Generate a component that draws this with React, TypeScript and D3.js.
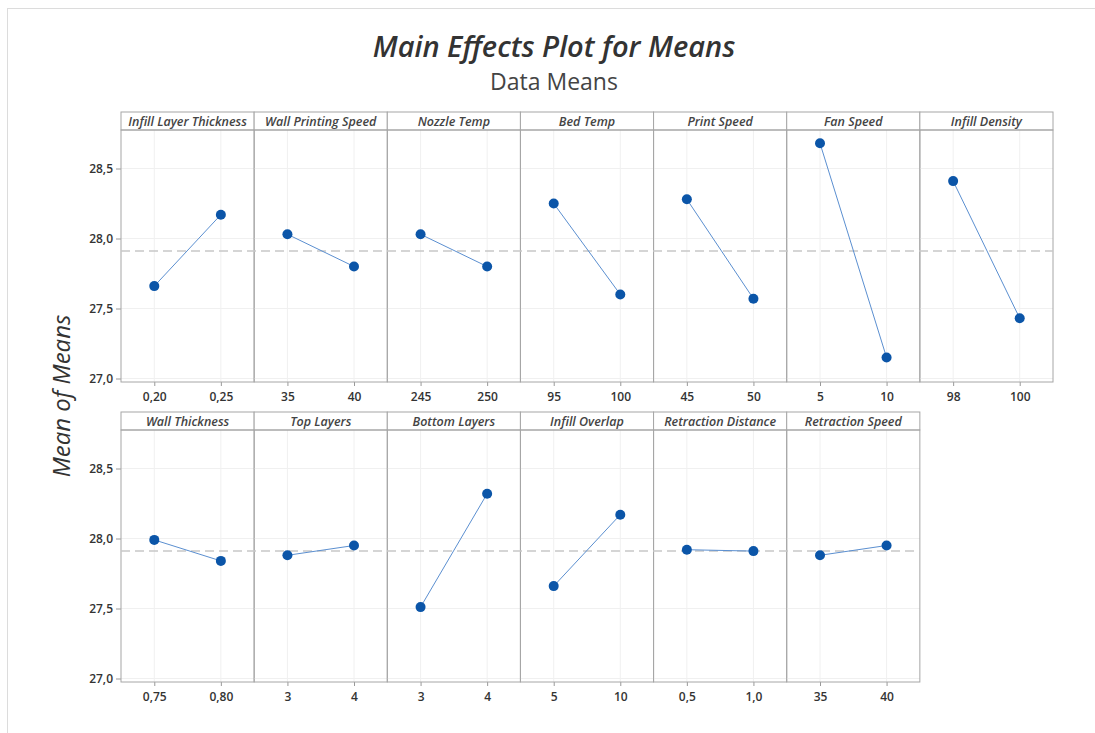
import { useEffect, useRef } from "react";
import * as d3 from "d3";

const factors = [
  "Infill Layer Thickness",
  "Wall Printing Speed",
  "Nozzle Temp",
  "Bed Temp",
  "Print Speed",
  "Fan Speed",
  "Infill Density",
  "Wall Thickness",
  "Top Layers",
  "Bottom Layers",
  "Infill Overlap",
  "Retraction Distance",
  "Retraction Speed",
];

const levels = [
  ["0,20", "0,25"],
  ["35", "40"],
  ["245", "250"],
  ["95", "100"],
  ["45", "50"],
  ["5", "10"],
  ["98", "100"],
  ["0,75", "0,80"],
  ["3", "4"],
  ["3", "4"],
  ["5", "10"],
  ["0,5", "1,0"],
  ["35", "40"],
];

const means = [
  [27.66, 28.17],
  [28.03, 27.8],
  [28.03, 27.8],
  [28.25, 27.6],
  [28.28, 27.57],
  [28.68, 27.15],
  [28.41, 27.43],
  [27.99, 27.84],
  [27.88, 27.95],
  [27.51, 28.32],
  [27.66, 28.17],
  [27.92, 27.91],
  [27.88, 27.95],
];

const grandMean = 27.91;
const yTicks = [27.0, 27.5, 28.0, 28.5];
const perRow = 7;

export default function App() {
  const svgRef = useRef<SVGSVGElement | null>(null);

  useEffect(() => {
    if (!svgRef.current) return;
    const width = 1095;
    const height = 733;
    const left = 121;
    const right = 1053;
    const panelW = (right - left) / perRow;
    const stripH = 18;
    const plotH = 252;
    const rowTops = [112, 412];
    const font = "'Open Sans', 'Noto Sans', sans-serif";

    const svg = d3.select(svgRef.current);
    svg.selectAll("*").remove();

    svg.append("rect").attr("width", width).attr("height", height).attr("fill", "#fff");
    // outer frame
    svg
      .append("rect")
      .attr("x", 7.5)
      .attr("y", 8.5)
      .attr("width", width)
      .attr("height", height)
      .attr("fill", "none")
      .attr("stroke", "#dcdcdc");

    svg
      .append("text")
      .attr("x", 554)
      .attr("y", 57)
      .attr("text-anchor", "middle")
      .attr("font-family", font)
      .attr("font-size", 29)
      .attr("font-style", "italic")
      .attr("font-weight", 600)
      .attr("fill", "#333")
      .text("Main Effects Plot for Means");

    svg
      .append("text")
      .attr("x", 554)
      .attr("y", 90)
      .attr("text-anchor", "middle")
      .attr("font-family", font)
      .attr("font-size", 23)
      .attr("fill", "#444")
      .text("Data Means");

    svg
      .append("text")
      .attr("transform", "translate(70,396) rotate(-90)")
      .attr("text-anchor", "middle")
      .attr("font-family", font)
      .attr("font-size", 24)
      .attr("font-style", "italic")
      .attr("fill", "#333")
      .text("Mean of Means");

    const nRows = Math.ceil(factors.length / perRow);
    for (let r = 0; r < nRows; r++) {
      const top = rowTops[r];
      const plotTop = top + stripH;
      const plotBottom = plotTop + plotH;
      const idx = d3.range(r * perRow, Math.min(factors.length, (r + 1) * perRow));
      const rowRight = left + idx.length * panelW;

      const y = d3.scaleLinear().domain([26.975, 28.775]).range([plotBottom, plotTop]);

      const row = svg.append("g");

      // y axis ticks
      const yAxis = row
        .append("g")
        .attr("transform", `translate(${left},0)`)
        .call(
          d3
            .axisLeft(y)
            .tickValues(yTicks)
            .tickSize(5)
            .tickFormat((d) => d3.format(".1f")(d as number).replace(".", ","))
        );
      yAxis.select(".domain").remove();
      yAxis.selectAll("line").attr("stroke", "#999");
      yAxis
        .selectAll("text")
        .attr("font-family", font)
        .attr("font-size", 12)
        .attr("font-weight", 600)
        .attr("fill", "#333")
        .attr("x", -8);

      idx.forEach((fi, j) => {
        const x0 = left + j * panelW;
        const x = d3
          .scalePoint<string>()
          .domain(levels[fi])
          .range([x0, x0 + panelW])
          .padding(0.5);

        const g = row.append("g");

        // grid
        g.selectAll(".hg")
          .data(yTicks)
          .join("line")
          .attr("x1", x0)
          .attr("x2", x0 + panelW)
          .attr("y1", (d) => y(d))
          .attr("y2", (d) => y(d))
          .attr("stroke", "#f0f0f0");
        g.selectAll(".vg")
          .data(levels[fi])
          .join("line")
          .attr("x1", (d) => x(d)!)
          .attr("x2", (d) => x(d)!)
          .attr("y1", plotTop)
          .attr("y2", plotBottom)
          .attr("stroke", "#f0f0f0");

        // x axis
        const xAxis = g
          .append("g")
          .attr("transform", `translate(0,${plotBottom})`)
          .call(d3.axisBottom(x).tickSize(4));
        xAxis.select(".domain").remove();
        xAxis.selectAll("line").attr("stroke", "#999");
        xAxis
          .selectAll("text")
          .attr("font-family", font)
          .attr("font-size", 12)
          .attr("font-weight", 600)
          .attr("fill", "#333")
          .attr("y", 10);

        // strip
        g.append("rect")
          .attr("x", x0)
          .attr("y", top)
          .attr("width", panelW)
          .attr("height", stripH)
          .attr("fill", "#fff")
          .attr("stroke", "#a6a6a6");
        g.append("text")
          .attr("x", x0 + panelW / 2)
          .attr("y", top + 13.5)
          .attr("text-anchor", "middle")
          .attr("font-family", font)
          .attr("font-size", 12.5)
          .attr("font-style", "italic")
          .attr("font-weight", 600)
          .attr("fill", "#444")
          .text(factors[fi]);

        // panel frame
        g.append("rect")
          .attr("x", x0)
          .attr("y", plotTop)
          .attr("width", panelW)
          .attr("height", plotH)
          .attr("fill", "none")
          .attr("stroke", "#a6a6a6");
      });

      // mean reference line
      row
        .append("line")
        .attr("x1", left)
        .attr("x2", rowRight)
        .attr("y1", y(grandMean))
        .attr("y2", y(grandMean))
        .attr("stroke", "#c8c8c8")
        .attr("stroke-width", 1.5)
        .attr("stroke-dasharray", "9,5");

      idx.forEach((fi, j) => {
        const x0 = left + j * panelW;
        const x = d3
          .scalePoint<string>()
          .domain(levels[fi])
          .range([x0, x0 + panelW])
          .padding(0.5);
        const pts = levels[fi].map((l, k) => ({ l, v: means[fi][k] }));
        const line = d3
          .line<{ l: string; v: number }>()
          .x((d) => x(d.l)!)
          .y((d) => y(d.v));
        row
          .append("path")
          .attr("d", line(pts))
          .attr("fill", "none")
          .attr("stroke", "#5b8fd0")
          .attr("stroke-width", 1);
        row
          .selectAll(`.pt${fi}`)
          .data(pts)
          .join("circle")
          .attr("cx", (d) => x(d.l)!)
          .attr("cy", (d) => y(d.v))
          .attr("r", 5)
          .attr("fill", "#0b55a8");
      });
    }
  }, []);

  return (
    <svg
      ref={svgRef}
      width={1095}
      height={733}
      style={{ position: "absolute", left: 0, top: 0 }}
    ></svg>
  );
}
